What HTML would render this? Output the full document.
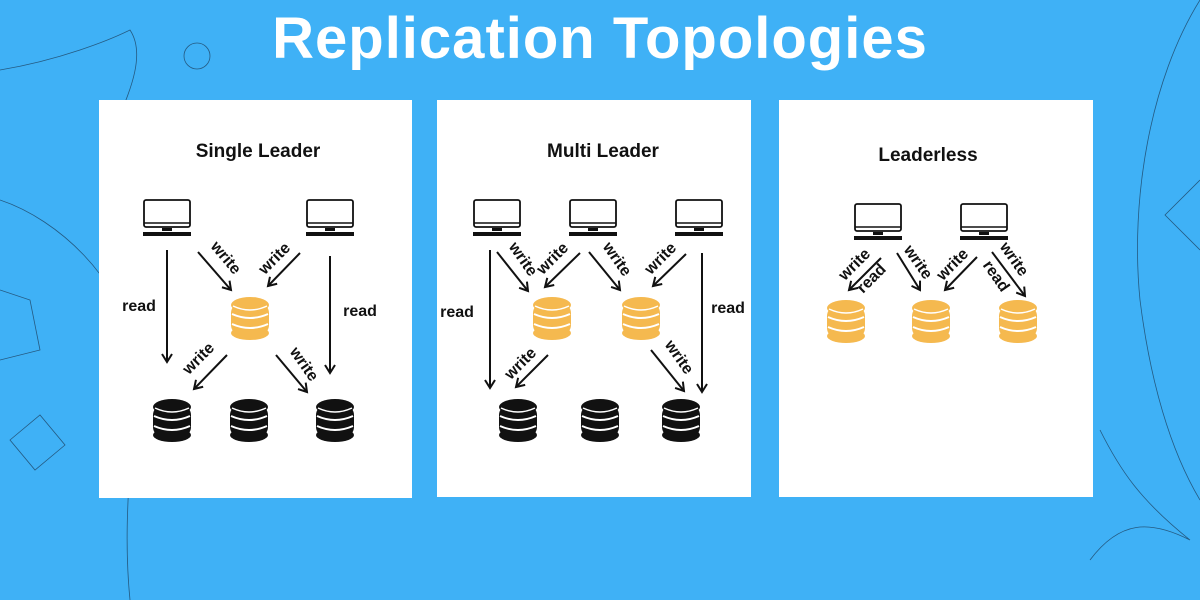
<!DOCTYPE html>
<html><head><style>
html,body{margin:0;padding:0;width:1200px;height:600px;overflow:hidden;background:#3fb1f6;}
svg{display:block}
text{font-family:"Liberation Sans",sans-serif;font-weight:bold;}
</style></head><body>
<svg width="1200" height="600" viewBox="0 0 1200 600" xmlns="http://www.w3.org/2000/svg">
<defs>
<marker id="ah" markerWidth="12" markerHeight="12" refX="9" refY="6" orient="auto" markerUnits="userSpaceOnUse">
<path d="M1,1 L9,6 L1,11" fill="none" stroke="#111" stroke-width="2"/>
</marker>
<g id="mon">
<rect x="1" y="0" width="46" height="27" rx="2" fill="#fff" stroke="#111" stroke-width="1.8"/>
<line x1="1" y1="23" x2="47" y2="23" stroke="#111" stroke-width="1.5"/>
<rect x="19" y="28" width="10" height="3" fill="#111"/>
<rect x="0" y="32" width="48" height="4" fill="#111"/>
</g>
<g id="dbg">
<rect x="0" y="6" width="38" height="32" rx="10" fill="#f5b94f"/>
<ellipse cx="19" cy="8" rx="19" ry="8" fill="#f5b94f"/>
<ellipse cx="19" cy="36" rx="19" ry="7" fill="#f5b94f"/>
<path d="M1,17 Q19,25 37,17 M1,27 Q19,35 37,27" fill="none" stroke="#fff" stroke-width="2"/>
<path d="M2,9 Q19,17 36,9" fill="none" stroke="#fff" stroke-width="1.5"/>
</g>
<g id="dbk">
<rect x="0" y="6" width="38" height="32" rx="10" fill="#111"/>
<ellipse cx="19" cy="8" rx="19" ry="8" fill="#111"/>
<ellipse cx="19" cy="36" rx="19" ry="7" fill="#111"/>
<path d="M1,17 Q19,25 37,17 M1,27 Q19,35 37,27" fill="none" stroke="#fff" stroke-width="2"/>
<path d="M2,9 Q19,17 36,9" fill="none" stroke="#fff" stroke-width="1.5"/>
</g>
</defs>
<g fill="none" stroke="#1a3550" stroke-width="0.8" opacity="0.7">
<path d="M0,70 C60,60 110,40 130,30 C150,60 120,110 110,140 C140,120 165,110 190,130 C160,150 130,170 125,200"/>
<path d="M0,200 C60,220 120,280 130,340 C140,420 120,500 130,600"/>
<path d="M0,290 L30,300 L40,350 L0,360"/>
<path d="M10,440 L40,415 L65,445 L35,470 Z"/>
<circle cx="197" cy="56" r="13"/><circle cx="198" cy="208" r="15"/><circle cx="237" cy="143" r="15"/>
<circle cx="1053" cy="413" r="15"/><circle cx="1015" cy="480" r="15"/>
<path d="M1200,0 C1150,80 1130,200 1140,300 C1150,380 1170,450 1200,500"/>
<path d="M1200,180 L1165,215 L1200,250"/>
<path d="M1100,430 C1120,470 1140,500 1190,540 C1150,520 1120,520 1090,560"/>
</g>
<text x="600" y="58" text-anchor="middle" font-size="58" fill="#fff" letter-spacing="1">Replication Topologies</text>
<rect x="99" y="100" width="313" height="398" fill="#fff"/>
<rect x="437" y="100" width="314" height="397" fill="#fff"/>
<rect x="779" y="100" width="314" height="397" fill="#fff"/>
<g fill="#111" font-size="19">
<text x="258" y="157" text-anchor="middle">Single Leader</text>
<text x="603" y="157" text-anchor="middle">Multi Leader</text>
<text x="928" y="161" text-anchor="middle">Leaderless</text>
</g>
<use href="#mon" x="143" y="200"/><use href="#mon" x="306" y="200"/>
<use href="#dbg" x="231" y="297"/>
<use href="#dbk" x="153" y="399"/><use href="#dbk" x="230" y="399"/><use href="#dbk" x="316" y="399"/>
<g stroke="#111" stroke-width="2" marker-end="url(#ah)">
<line x1="167" y1="250" x2="167" y2="362"/>
<line x1="330" y1="256" x2="330" y2="373"/>
<line x1="198" y1="252" x2="231" y2="290"/>
<line x1="300" y1="253" x2="268" y2="286"/>
<line x1="227" y1="355" x2="194" y2="389"/>
<line x1="276" y1="355" x2="307" y2="392"/>
</g>
<use href="#mon" x="473" y="200"/><use href="#mon" x="569" y="200"/><use href="#mon" x="675" y="200"/>
<use href="#dbg" x="533" y="297"/><use href="#dbg" x="622" y="297"/>
<use href="#dbk" x="499" y="399"/><use href="#dbk" x="581" y="399"/><use href="#dbk" x="662" y="399"/>
<g stroke="#111" stroke-width="2" marker-end="url(#ah)">
<line x1="490" y1="250" x2="490" y2="388"/>
<line x1="702" y1="253" x2="702" y2="392"/>
<line x1="497" y1="252" x2="528" y2="291"/>
<line x1="580" y1="253" x2="545" y2="287"/>
<line x1="589" y1="252" x2="620" y2="290"/>
<line x1="686" y1="254" x2="653" y2="286"/>
<line x1="548" y1="355" x2="516" y2="387"/>
<line x1="651" y1="350" x2="684" y2="391"/>
</g>
<use href="#mon" x="854" y="204"/><use href="#mon" x="960" y="204"/>
<use href="#dbg" x="827" y="300"/><use href="#dbg" x="912" y="300"/><use href="#dbg" x="999" y="300"/>
<g stroke="#111" stroke-width="2" marker-end="url(#ah)">
<line x1="881" y1="258" x2="849" y2="290"/>
<line x1="897" y1="253" x2="920" y2="290"/>
<line x1="977" y1="257" x2="945" y2="290"/>
<line x1="992" y1="252" x2="1025" y2="296"/>
</g>
<g fill="#111" font-size="16">
<text x="139" y="311" text-anchor="middle">read</text>
<text x="360" y="316" text-anchor="middle">read</text>
<text x="457" y="317" text-anchor="middle">read</text>
<text x="728" y="313" text-anchor="middle">read</text>
<text transform="translate(222,261) rotate(50)" text-anchor="middle">write</text>
<text transform="translate(278,262) rotate(-45)" text-anchor="middle">write</text>
<text transform="translate(202,362) rotate(-45)" text-anchor="middle">write</text>
<text transform="translate(300,367) rotate(55)" text-anchor="middle">write</text>
<text transform="translate(519,262) rotate(55)" text-anchor="middle">write</text>
<text transform="translate(556,262) rotate(-45)" text-anchor="middle">write</text>
<text transform="translate(613,262) rotate(55)" text-anchor="middle">write</text>
<text transform="translate(664,262) rotate(-45)" text-anchor="middle">write</text>
<text transform="translate(524,367) rotate(-45)" text-anchor="middle">write</text>
<text transform="translate(675,360) rotate(55)" text-anchor="middle">write</text>
<text transform="translate(858,268) rotate(-45)" text-anchor="middle">write</text>
<text transform="translate(875,282) rotate(-45)" text-anchor="middle">read</text>
<text transform="translate(914,265) rotate(55)" text-anchor="middle">write</text>
<text transform="translate(956,268) rotate(-45)" text-anchor="middle">write</text>
<text transform="translate(1010,262) rotate(55)" text-anchor="middle">write</text>
<text transform="translate(992,279) rotate(55)" text-anchor="middle">read</text>
</g>
</svg>
</body></html>
